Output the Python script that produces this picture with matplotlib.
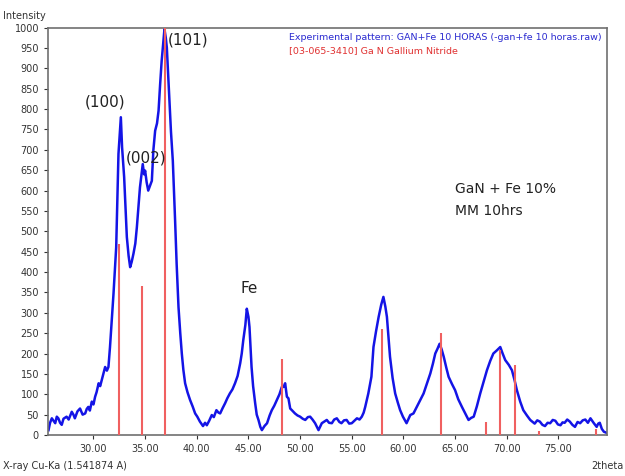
import matplotlib
matplotlib.use("Agg")
import matplotlib.pyplot as plt

# experimental pattern (2theta, intensity)
two_theta = [25.65, 25.8, 25.97, 26.13, 26.3, 26.45, 26.6, 26.77, 26.93, 27.1, 27.4, 27.6,
             27.9, 28.06, 28.2, 28.45, 28.7, 28.95, 29.2, 29.35, 29.5, 29.65, 29.84, 30.0,
             30.16, 30.3, 30.5, 30.65, 30.8, 30.95, 31.13, 31.3, 31.45, 31.6, 31.94, 32.2,
             32.42, 32.55, 32.65, 32.77, 32.97, 33.1, 33.23, 33.4, 33.55, 33.7, 33.87,
             34.05, 34.2, 34.35, 34.5, 34.65, 34.77, 34.9, 35.0, 35.15, 35.3, 35.45,
             35.65, 35.8, 35.97, 36.15, 36.3, 36.45, 36.6, 36.75, 36.87, 37.0, 37.1,
             37.22, 37.35, 37.5, 37.68, 37.9, 38.05, 38.23, 38.4, 38.55, 38.7, 38.87,
             39.1, 39.35, 39.6, 39.84, 40.05, 40.3, 40.6, 40.8, 40.97, 41.2, 41.45,
             41.65, 41.9, 42.1, 42.26, 42.5, 42.74, 42.95, 43.2, 43.45, 43.7, 43.95,
             44.2, 44.35, 44.5, 44.7, 44.84, 45.0, 45.1, 45.3, 45.45, 45.65, 45.8,
             45.97, 46.15, 46.3, 46.55, 46.8, 47.05, 47.26, 47.5, 47.75, 48.0, 48.23,
             48.4, 48.55, 48.72, 48.87, 49.04, 49.2, 49.5, 49.75, 50.0, 50.25, 50.5,
             50.75, 50.97, 51.2, 51.45, 51.78, 52.1, 52.35, 52.58, 52.8, 53.07, 53.3,
             53.55, 53.8, 54.0, 54.25, 54.5, 54.75, 55.0, 55.25, 55.5, 55.75, 55.97,
             56.15, 56.3, 56.45, 56.6, 56.9, 57.1, 57.35, 57.6, 57.85, 58.06, 58.25,
             58.4, 58.55, 58.7, 58.95, 59.2, 59.45, 59.68, 59.95, 60.3, 60.5, 60.66,
             60.97, 61.15, 61.3, 61.6, 61.95, 62.25, 62.6, 62.85, 63.08, 63.3, 63.5,
             63.7, 63.9, 64.15, 64.37, 64.7, 65.0, 65.3, 65.66, 66.0, 66.3, 66.55,
             66.8, 67.1, 67.43, 67.75, 68.08, 68.4, 68.7, 69.05, 69.37, 69.6, 69.85,
             70.2, 70.5, 70.75, 70.98, 71.3, 71.6, 71.95, 72.27, 72.5, 72.7, 72.95,
             73.2, 73.45, 73.7, 73.95, 74.2, 74.45, 74.7, 74.95, 75.2, 75.4, 75.6,
             75.85, 76.1, 76.35, 76.6, 76.85, 77.1, 77.35, 77.6, 77.85, 78.1, 78.4,
             78.7, 78.85, 79.0, 79.2, 79.4, 79.7]
intensity = [12, 30, 41, 35, 29, 45, 41, 30, 25, 40, 45, 38,
             57, 50, 41, 58, 65, 50, 53, 64, 69, 60, 82, 75,
             94, 105, 127, 120, 135, 150, 167, 158, 167, 216, 347, 461,
             690, 740, 780, 706, 633, 560, 486, 440, 412, 425, 445,
             470, 510, 560, 608, 640, 665, 640, 649, 620, 600, 610,
             624, 700, 747, 765, 796, 860, 918, 960, 996, 975, 951,
             890, 820, 745, 673, 527, 420, 314, 250, 200, 160, 127,
             105, 86, 70, 53, 45, 33, 22, 30, 24, 35, 49,
             44, 61, 55, 53, 66, 78, 90, 102, 112, 127, 145,
             176, 200, 233, 270, 310, 290, 265, 167, 120, 78, 50,
             37, 20, 12, 22, 29, 48, 61, 72, 86, 100, 118,
             118, 127, 94, 90, 65, 61, 53, 48, 45, 40, 37,
             44, 45, 38, 29, 12, 29, 33, 37, 30, 29, 38,
             41, 32, 29, 36, 37, 28, 29, 35, 41, 38, 45,
             55, 69, 85, 102, 143, 216, 255, 290, 320, 339, 315,
             290, 240, 192, 140, 102, 80, 61, 45, 29, 40, 49,
             53, 62, 69, 85, 102, 125, 151, 175, 200, 212, 224,
             210, 192, 165, 143, 125, 110, 88, 69, 52, 37, 42,
             45, 70, 102, 130, 159, 182, 200, 208, 216, 200, 184,
             172, 159, 135, 110, 82, 61, 48, 37, 32, 28, 36,
             33, 25, 22, 30, 29, 37, 35, 26, 24, 31, 30,
             38, 33, 25, 20, 32, 29, 36, 38, 30, 41, 30,
             20, 28, 30, 15, 8, 5]

# reference lines [03-065-3410] GaN
ref_pos = [32.49, 34.65, 36.94, 48.24, 57.89, 63.59, 67.95, 69.3, 70.75, 73.15, 78.6]
ref_int = [470, 366, 1000, 186, 261, 251, 33, 208, 171, 10, 15]

peak_labels = ["(100)", "(002)", "(101)", "Fe"]
label_pos = [(29.2, 800), (33.1, 662), (37.15, 950), (44.2, 342)]

fig = plt.figure(figsize=(6.25, 4.76), dpi=100)
ax = fig.add_axes([0.0768, 0.0861, 0.8944, 0.8559])

ax.plot(two_theta, intensity, color="#1414e6", lw=1.8, zorder=2)
ax.vlines(ref_pos, 0, ref_int, color="#f06060", lw=1.5, zorder=3)

ax.set_xlim(25.6, 79.7)
ax.set_ylim(0, 1000)
ax.set_xticks([30, 35, 40, 45, 50, 55, 60, 65, 70, 75])
ax.set_xticklabels(["%.2f" % t for t in ax.get_xticks()])
ax.set_yticks(range(0, 1001, 50))
ax.tick_params(labelsize=7, colors="#333333", length=3, width=0.8)
for sp in ax.spines.values():
    sp.set_color("#707070")
    sp.set_linewidth(1.2)

for txt, (x, y) in zip(peak_labels, label_pos):
    ax.text(x, y, txt, fontsize=11, color="#222222", va="bottom", ha="left")

ax.text(65.0, 595, "GaN + Fe 10%", fontsize=10, color="#222222")
ax.text(65.0, 540, "MM 10hrs", fontsize=10, color="#222222")

ax.text(48.9, 975, "Experimental pattern: GAN+Fe 10 HORAS (-gan+fe 10 horas.raw)",
        fontsize=6.8, color="#2a2ad0", va="center")
ax.text(48.9, 943, "[03-065-3410] Ga N Gallium Nitride",
        fontsize=6.8, color="#e03030", va="center")

fig.text(0.005, 0.955, "Intensity", fontsize=7, color="#333333", va="bottom")
fig.text(0.005, 0.015, "X-ray Cu-Ka (1.541874 A)", fontsize=7, color="#333333")
fig.text(0.998, 0.015, "2theta", fontsize=7, color="#333333", ha="right")

fig.savefig("out.png", dpi=100)
